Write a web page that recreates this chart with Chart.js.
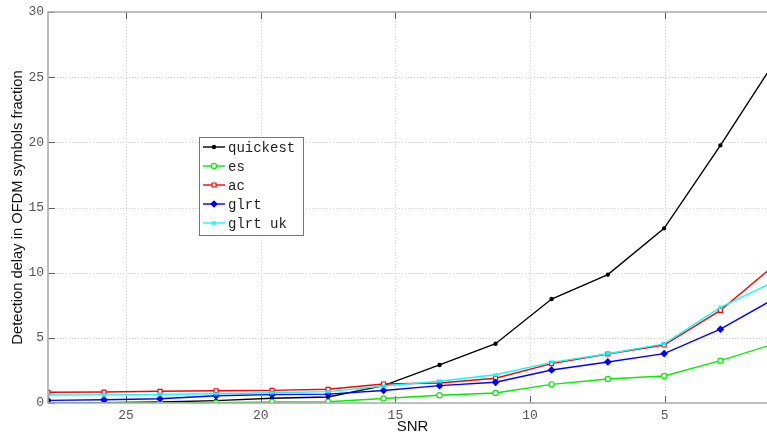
<!DOCTYPE html>
<html>
<head>
<meta charset="utf-8">
<script src="https://cdn.jsdelivr.net/npm/chart.js@4"></script>
<style>
  html, body { margin: 0; padding: 0; background: #fff; }
  #wrap { width: 767px; height: 434px; position: relative; }
</style>
</head>
<body>
<div id="wrap"><canvas id="c" width="767" height="434"></canvas></div>
<script>
// SNR sample points (dB)
const snr = [27.9, 25.82, 23.74, 21.66, 19.58, 17.5, 15.44, 13.36, 11.28, 9.2, 7.11, 5.02, 2.93, 0.85];

// Detection delay per detector (OFDM symbol fractions)
const quickest = [0.0, 0.02, 0.08, 0.18, 0.36, 0.46, 1.33, 2.92, 4.55, 7.98, 9.85, 13.4, 19.77, 26.4];
const es       = [0.0, 0.0, 0.0, 0.02, 0.08, 0.1, 0.35, 0.6, 0.77, 1.43, 1.84, 2.07, 3.25, 4.59];
const ac       = [0.82, 0.84, 0.9, 0.94, 0.97, 1.05, 1.46, 1.54, 1.9, 3.02, 3.76, 4.45, 7.11, 10.7];
const glrt     = [0.2, 0.25, 0.33, 0.56, 0.64, 0.68, 0.96, 1.33, 1.59, 2.53, 3.15, 3.79, 5.66, 8.09];
const glrtUk   = [0.61, 0.62, 0.66, 0.71, 0.79, 0.87, 1.3, 1.67, 2.17, 3.12, 3.78, 4.53, 7.34, 9.4];

// Axis tick labels
const xTicks = [25, 20, 15, 10, 5];
const yTicks = [0, 5, 10, 15, 20, 25, 30];

const seriesNames = ['quickest', 'es', 'ac', 'glrt', 'glrt uk'];
const xTitle = 'SNR';
const yTitle = 'Detection delay in OFDM symbols fraction';

const pts = arr => arr.map((v, i) => ({ x: snr[i], y: v }));

function ds(label, data, color, fill, style, radius, order) {
  return {
    label, data: pts(data),
    borderColor: color, backgroundColor: fill,
    borderWidth: 1.4, pointStyle: style, pointRadius: radius,
    pointBorderWidth: 1.2, pointHoverRadius: radius,
    tension: 0, order
  };
}

const datasets = [
  ds(seriesNames[0], quickest, '#000000', '#000000', 'circle', 1.6, 5),
  ds(seriesNames[1], es, '#00ee00', '#ffffff', 'circle', 2.6, 4),
  ds(seriesNames[2], ac, '#ff0000', '#ffffff', 'rect', 2.8, 3),
  ds(seriesNames[3], glrt, '#0000ff', '#0000ff', 'rectRot', 3, 2),
  ds(seriesNames[4], glrtUk, '#00ffff', '#00ffff', 'crossRot', 2.6, 1)
];

const axisGray = '#a8a8a8';
const monoFamily = '"Liberation Mono", "DejaVu Sans Mono", monospace';
const sansFamily = '"Liberation Sans", Arial, sans-serif';
const tickFont = { family: monoFamily, size: 13 };

// Box, dotted grid, inward tick marks and the SNR axis title
const framePlugin = {
  id: 'frame',
  beforeDatasetsDraw(chart) {
    const { ctx, chartArea: a, scales: { x, y } } = chart;
    ctx.save();
    ctx.strokeStyle = '#d0d0d0';
    ctx.lineWidth = 1;
    ctx.setLineDash([1, 2]);
    xTicks.forEach(v => {
      const px = Math.round(x.getPixelForValue(v)) + 0.5;
      ctx.beginPath(); ctx.moveTo(px, a.top); ctx.lineTo(px, a.bottom); ctx.stroke();
    });
    yTicks.forEach(v => {
      if (v === 0 || v === 30) return;
      const py = Math.round(y.getPixelForValue(v)) + 0.5;
      ctx.beginPath(); ctx.moveTo(a.left, py); ctx.lineTo(a.right, py); ctx.stroke();
    });
    ctx.setLineDash([]);
    ctx.strokeStyle = '#606060';
    xTicks.forEach(v => {
      const px = Math.round(x.getPixelForValue(v)) + 0.5;
      ctx.beginPath(); ctx.moveTo(px, a.bottom); ctx.lineTo(px, a.bottom - 7); ctx.stroke();
      ctx.beginPath(); ctx.moveTo(px, a.top); ctx.lineTo(px, a.top + 7); ctx.stroke();
    });
    yTicks.forEach(v => {
      const py = Math.round(y.getPixelForValue(v)) + 0.5;
      ctx.beginPath(); ctx.moveTo(a.left, py); ctx.lineTo(a.left + 7, py); ctx.stroke();
    });
    ctx.restore();
  },
  afterDraw(chart) {
    const { ctx, chartArea: a } = chart;
    ctx.save();
    ctx.strokeStyle = axisGray;
    ctx.lineWidth = 1.5;
    ctx.strokeRect(a.left, a.top, a.right - a.left + 5, a.bottom - a.top);
    // x-axis title, centred on the full axis span (which runs past the right edge)
    ctx.fillStyle = '#111';
    ctx.font = '15px ' + sansFamily;
    ctx.textAlign = 'center';
    ctx.textBaseline = 'alphabetic';
    ctx.fillText(xTitle, (a.left + a.right + 10) / 2, 431);
    ctx.restore();
  }
};

// Boxed legend inside the plot area
const boxLegend = {
  id: 'boxLegend',
  afterDraw(chart) {
    const { ctx } = chart;
    const left = 199, top = 137, w = 104, h = 98;
    ctx.save();
    ctx.fillStyle = '#fff';
    ctx.fillRect(left, top, w, h);
    ctx.strokeStyle = '#777';
    ctx.lineWidth = 1;
    ctx.strokeRect(left + 0.5, top + 0.5, w, h);
    ctx.font = '14px ' + monoFamily;
    ctx.textBaseline = 'middle';
    chart.data.datasets.forEach((d, i) => {
      const cy = top + 10 + i * 19;
      ctx.strokeStyle = d.borderColor;
      ctx.lineWidth = 1.4;
      ctx.beginPath(); ctx.moveTo(203, cy); ctx.lineTo(225, cy); ctx.stroke();
      ctx.fillStyle = d.backgroundColor;
      ctx.lineWidth = 1.2;
      Chart.helpers.drawPoint(ctx, {
        pointStyle: d.pointStyle, radius: d.pointRadius, borderWidth: 1.2, rotation: 0
      }, 214, cy);
      ctx.fillStyle = '#222';
      ctx.fillText(d.label, 228, cy + 1);
    });
    ctx.restore();
  }
};

new Chart(document.getElementById('c'), {
  type: 'line',
  data: { datasets },
  options: {
    responsive: false,
    animation: false,
    events: [],
    layout: { autoPadding: false, padding: { top: 12, right: 0, left: 0, bottom: 0 } },
    plugins: { legend: { display: false }, tooltip: { enabled: false } },
    scales: {
      x: {
        type: 'linear', reverse: true, min: 1.2, max: 27.9,
        afterBuildTicks: s => { s.ticks = xTicks.map(v => ({ value: v })); },
        afterFit: s => { s.height = 31; s.paddingLeft = 0; s.paddingRight = 0; },
        grid: { display: false, drawTicks: false },
        border: { display: false },
        ticks: { font: tickFont, color: '#555', padding: 5, maxRotation: 0 },
        title: { display: false }
      },
      y: {
        type: 'linear', min: 0, max: 30,
        afterBuildTicks: s => { s.ticks = yTicks.map(v => ({ value: v })); },
        afterFit: s => { s.width = 48; },
        grid: { display: false, drawTicks: false },
        border: { display: false },
        ticks: { font: tickFont, color: '#555', padding: 4 },
        title: {
          display: true, text: yTitle, color: '#111',
          font: { family: sansFamily, size: 14.7, lineHeight: 1.0 },
          padding: { top: 10.5, bottom: 0 }
        }
      }
    }
  },
  plugins: [framePlugin, boxLegend]
});
</script>
</body>
</html>
